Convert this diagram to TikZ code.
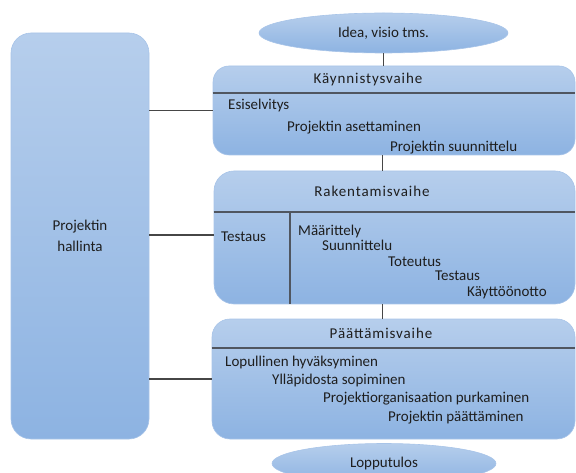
\documentclass[tikz,border=0pt]{standalone}
\usepackage{fontspec}
\setmainfont{Carlito}
\usetikzlibrary{shapes.geometric}

\definecolor{filltop}{RGB}{182,206,236}
\definecolor{fillbot}{RGB}{141,179,226}
\definecolor{edgeblue}{RGB}{168,196,232}
\definecolor{txt}{RGB}{30,30,30}
\definecolor{sepgray}{RGB}{80,86,96}
\definecolor{linkgray}{RGB}{70,70,70}

\tikzset{
  blob/.style={top color=filltop, bottom color=fillbot, draw=edgeblue,
    line width=0.6pt, inner sep=0pt, text=txt},
  phasebox/.style={blob, rectangle, rounded corners=16pt},
  oval/.style={blob, ellipse, font=\fontsize{15}{18}\selectfont},
  item/.style={inner sep=0pt, text=txt, font=\fontsize{15}{18}\selectfont,
    text height=10pt, text depth=3pt, anchor=west},
  head/.style={inner sep=0pt, text=txt,
    font=\fontsize{15}{18}\selectfont\addfontfeature{LetterSpace=6},
    text height=10pt, text depth=3pt},
  sep/.style={draw=sepgray, line width=1.4pt},
  link/.style={draw=linkgray, line width=1.2pt},
}

\begin{document}
\begin{tikzpicture}[x=1pt, y=-1pt]
\useasboundingbox (0,0) rectangle (576,473);
\clip (0,0) rectangle (576,473);

% management column
\node[phasebox, rounded corners=20pt, minimum width=138pt, minimum height=406pt,
  align=center, font=\fontsize{15}{21}\selectfont] (mgmt) at (80,236)
  {Projektin\\hallinta};

% start and end ovals
\node[oval, minimum width=249pt, minimum height=40pt] (idea) at (383.5,33)
  {Idea, visio tms.};
\node[oval, minimum width=224pt, minimum height=40pt] (result) at (384,463.5)
  {Lopputulos};

% phase boxes
\node[phasebox, minimum width=362pt, minimum height=89pt] (kay) at (394,110.5) {};
\node[phasebox, rounded corners=20pt, minimum width=361pt, minimum height=133pt] (rak) at (394.5,237.5) {};
\node[phasebox, rounded corners=18pt, minimum width=363pt, minimum height=120pt] (paa) at (393.5,379) {};

% header separators
\coordinate (ks) at (0,93);
\coordinate (rs) at (0,212);
\coordinate (ps) at (0,348);
\draw[sep] (kay.west |- ks) -- (kay.east |- ks);
\draw[sep] (rak.west |- rs) -- (rak.east |- rs);
\draw[sep] (paa.west |- ps) -- (paa.east |- ps);
\coordinate (rdiv) at (290,212);
\draw[sep] (rdiv) -- (rdiv |- rak.south);

% connectors
\coordinate (spine) at (382.5,0);
\draw[link] (idea.south) -- (idea.south |- kay.north);
\draw[link] (spine |- kay.south) -- (spine |- rak.north);
\draw[link] (spine |- rak.south) -- (spine |- paa.north);
\coordinate (rlink) at (0,235);
\draw[link] (mgmt.east |- kay.west) -- (kay.west);
\draw[link] (mgmt.east |- rlink) -- (rak.west |- rlink);
\draw[link] (mgmt.east |- paa.west) -- (paa.west);

% headers
\node[head] (kh) at (368,80) {Käynnistysvaihe};
\node[head] (rh) at (372,193) {Rakentamisvaihe};
\node[head] (ph) at (381,335) {Päättämisvaihe};

% start-up phase tasks
\node[item] (k1) at (228,106) {Esiselvitys};
\node[item] (k2) at (287,128) {Projektin asettaminen};
\node[item] (k3) at (390,148) {Projektin suunnittelu};

% construction phase tasks
\node[item] (r0) at (221,238) {Testaus};
\node[item] (r1) at (298,232) {Määrittely};
\node[item] (r2) at (322,247) {Suunnittelu};
\node[item] (r3) at (388,263) {Toteutus};
\node[item] (r4) at (435,277) {Testaus};
\node[item] (r5) at (467,293) {Käyttöönotto};

% closing phase tasks
\node[item] (p1) at (225,363) {Lopullinen hyväksyminen};
\node[item] (p2) at (272,381) {Ylläpidosta sopiminen};
\node[item] (p3) at (323,399) {Projektiorganisaation purkaminen};
\node[item] (p4) at (388,418) {Projektin päättäminen};
\end{tikzpicture}
\end{document}
